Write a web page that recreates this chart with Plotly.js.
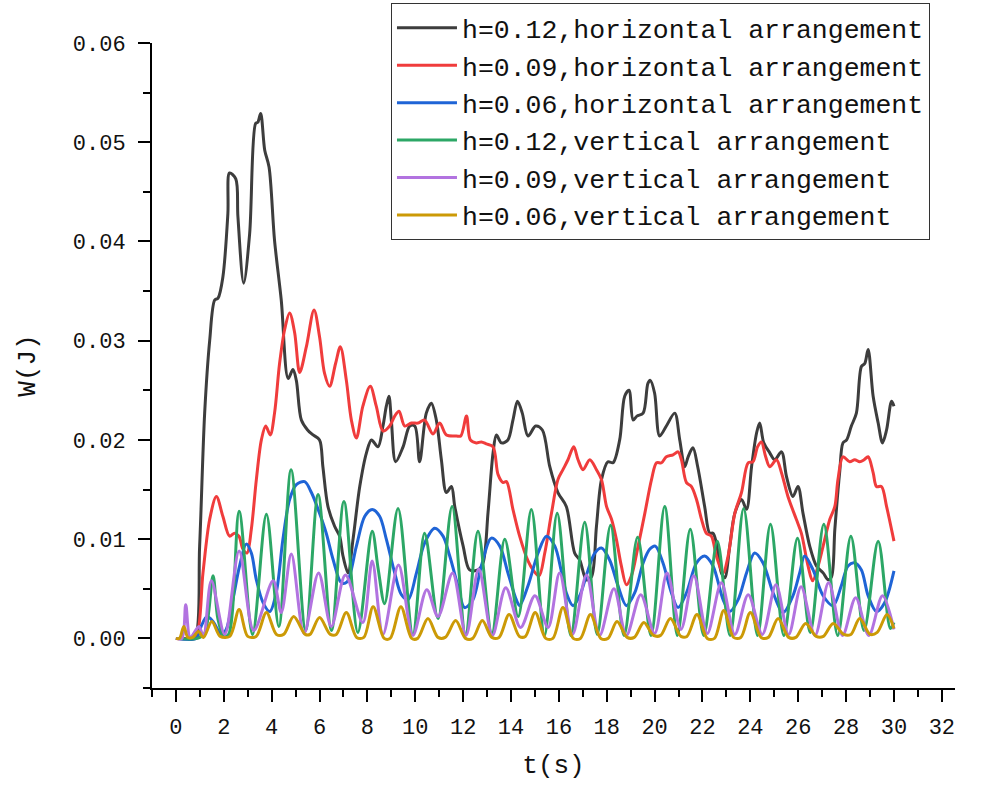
<!DOCTYPE html>
<html>
<head>
<meta charset="utf-8">
<script src="https://cdn.plot.ly/plotly-3.0.1.min.js"></script>
<style>html,body{margin:0;padding:0;background:#fff;}#chart{width:983px;height:786px;}</style>
</head>
<body>
<div id="chart"></div>
<script>
// Series names (legend)
const seriesNames = [
  "h=0.12,horizontal arrangement",
  "h=0.09,horizontal arrangement",
  "h=0.06,horizontal arrangement",
  "h=0.12,vertical arrangement",
  "h=0.09,vertical arrangement",
  "h=0.06,vertical arrangement"
];

// h=0.12 horizontal
const t_h12h = [0,0.5,0.79,0.99,1.2,1.41,1.62,1.76,1.96,2.17,
  2.24,2.5,2.59,2.83,3.08,3.33,3.42,3.54,3.71,3.89,
  4.12,4.4,4.69,4.89,5.03,5.24,5.5,5.73,6.0,6.14,
  6.35,6.63,6.84,6.98,7.19,7.4,7.68,7.96,8.17,8.44,
  8.65,8.79,8.9,9.0,9.18,9.49,9.77,9.98,10.18,10.46,
  10.67,10.88,11.09,11.3,11.51,11.65,12.0,12.27,12.62,12.83,
  13.04,13.25,13.39,13.6,13.87,14.08,14.27,14.47,14.71,15.03,
  15.31,15.62,15.96,16.31,16.66,16.87,17.15,17.36,17.57,17.78,
  18.05,18.26,18.54,18.75,18.93,19.1,19.26,19.52,19.72,19.82,
  20.0,20.21,20.49,20.84,21.05,21.26,21.4,21.6,21.8,22.09,
  22.3,22.44,22.58,22.79,22.93,23.14,23.35,23.63,23.84,24.05,
  24.26,24.39,24.56,24.81,25.02,25.3,25.51,25.78,25.99,26.2,
  26.48,26.76,27.04,27.25,27.39,27.53,27.73,27.87,28.02,28.22,
  28.43,28.64,28.78,28.92,29.13,29.34,29.52,29.69,29.9,30.0];
const w_h12h = [0,0,0,0.0093,0.0227,0.0300,0.0341,0.0343,0.0364,0.0428,
  0.0469,0.0463,0.0425,0.0358,0.0408,0.0519,0.0520,0.0529,0.0492,0.0475,
  0.0401,0.0341,0.0262,0.0271,0.0260,0.0220,0.0210,0.0205,0.0200,0.0173,
  0.0133,0.0113,0.0103,0.0083,0.0066,0.0100,0.0153,0.0187,0.0200,0.0193,
  0.0214,0.0234,0.0244,0.0220,0.0178,0.0193,0.0214,0.0214,0.0178,0.0227,
  0.0237,0.0220,0.0180,0.0147,0.0153,0.0133,0.0093,0.0069,0.0069,0.0076,
  0.0127,0.0187,0.0205,0.0197,0.0200,0.0220,0.0239,0.0227,0.0204,0.0214,
  0.0210,0.0173,0.0147,0.0133,0.0086,0.0079,0.0059,0.0062,0.0113,0.0160,
  0.0178,0.0177,0.0200,0.0244,0.0250,0.0220,0.0224,0.0227,0.0257,0.0260,
  0.0247,0.0204,0.0214,0.0227,0.0200,0.0173,0.0183,0.0192,0.0173,0.0133,
  0.0106,0.0106,0.0096,0.0066,0.0061,0.0093,0.0126,0.0140,0.0130,0.0173,
  0.0207,0.0217,0.0197,0.0187,0.0180,0.0188,0.0163,0.0143,0.0153,0.0126,
  0.0093,0.0073,0.0066,0.0059,0.0062,0.0110,0.0167,0.0197,0.0200,0.0214,
  0.0227,0.0274,0.0277,0.0291,0.0244,0.0217,0.0197,0.0210,0.0239,0.0234];

// h=0.09 horizontal
const t_h09h = [0,0.6,0.85,1.13,1.41,1.69,1.96,2.24,2.45,2.63,
  2.8,2.97,3.15,3.36,3.57,3.75,3.94,4.12,4.33,4.54,
  4.75,4.96,5.17,5.45,5.77,6.0,6.21,6.42,6.67,6.87,
  7.12,7.33,7.54,7.81,8.12,8.37,8.65,8.93,9.14,9.32,
  9.56,9.84,10.12,10.39,10.74,11.02,11.3,11.72,11.9,12.14,
  12.3,12.55,12.76,12.97,13.25,13.46,13.67,13.81,14.08,14.36,
  14.71,14.92,15.17,15.41,15.69,15.96,16.17,16.38,16.62,16.8,
  17.01,17.29,17.57,17.78,17.99,18.2,18.4,18.61,18.82,19.03,
  19.31,19.59,19.87,20.08,20.29,20.49,20.77,20.98,21.12,21.33,
  21.54,21.75,21.96,22.16,22.37,22.58,22.86,23.07,23.35,23.63,
  23.91,24.11,24.3,24.46,24.64,24.81,25.09,25.3,25.57,25.92,
  26.13,26.41,26.6,26.83,27.04,27.32,27.53,27.66,27.87,28.15,
  28.36,28.57,28.75,28.92,29.13,29.27,29.48,29.69,30.0];
const w_h09h = [0,0,0.0002,0.0066,0.0120,0.0143,0.0123,0.0103,0.0106,0.0103,
  0.0090,0.0086,0.0110,0.0160,0.0200,0.0214,0.0205,0.0227,0.0277,0.0311,
  0.0328,0.0308,0.0268,0.0294,0.0331,0.0304,0.0267,0.0254,0.0277,0.0294,
  0.0260,0.0220,0.0202,0.0234,0.0254,0.0234,0.0209,0.0214,0.0224,0.0229,
  0.0214,0.0217,0.0217,0.0220,0.0206,0.0217,0.0205,0.0204,0.0204,0.0224,
  0.0200,0.0197,0.0198,0.0196,0.0193,0.0165,0.0157,0.0158,0.0130,0.0103,
  0.0078,0.0069,0.0063,0.0086,0.0126,0.0160,0.0170,0.0180,0.0193,0.0180,
  0.0170,0.0180,0.0170,0.0160,0.0133,0.0120,0.0100,0.0073,0.0054,0.0063,
  0.0093,0.0126,0.0160,0.0177,0.0177,0.0183,0.0185,0.0188,0.0180,0.0157,
  0.0153,0.0140,0.0120,0.0106,0.0103,0.0083,0.0066,0.0083,0.0126,0.0147,
  0.0177,0.0178,0.0193,0.0198,0.0183,0.0173,0.0180,0.0167,0.0143,0.0120,
  0.0106,0.0073,0.0058,0.0073,0.0093,0.0120,0.0133,0.0160,0.0183,0.0178,
  0.0180,0.0178,0.0180,0.0183,0.0167,0.0153,0.0153,0.0133,0.0098];

// h=0.06 horizontal
const t_h06h = [0,0.85,1.05,1.3,1.55,1.9,2.1,2.38,2.66,2.94,3.15,
  3.36,3.64,3.92,4.19,4.47,4.75,5.03,5.38,5.66,6.0,
  6.28,6.56,6.91,7.15,7.54,7.89,8.2,8.51,8.79,9.14,
  9.42,9.7,10.05,10.39,10.81,11.16,11.44,11.78,12.06,12.41,
  12.76,13.18,13.53,13.87,14.22,14.36,14.71,15.13,15.48,15.83,
  16.1,16.31,16.59,16.87,17.22,17.5,17.78,18.12,18.47,18.82,
  19.17,19.52,19.8,20.03,20.35,20.7,20.98,21.33,21.75,22.09,
  22.44,22.86,23.14,23.49,23.84,24.18,24.53,24.95,25.37,25.78,
  26.06,26.27,26.62,27.04,27.46,27.8,28.08,28.36,28.64,28.92,
  29.27,29.61,30.0];
const w_h06h = [0,0,0.0012,0.0022,0.0017,0.0004,0.0009,0.0039,0.0073,0.0095,0.0086,
  0.0059,0.0036,0.0027,0.0046,0.0100,0.0140,0.0155,0.0158,0.0147,0.0126,
  0.0106,0.0080,0.0056,0.0057,0.0093,0.0123,0.0130,0.0123,0.0100,0.0066,
  0.0044,0.0039,0.0066,0.0096,0.0111,0.0103,0.0083,0.0053,0.0031,0.0039,
  0.0073,0.0101,0.0093,0.0066,0.0039,0.0033,0.0053,0.0086,0.0103,0.0093,
  0.0068,0.0046,0.0033,0.0043,0.0069,0.0086,0.0091,0.0079,0.0053,0.0033,
  0.0046,0.0076,0.0090,0.0093,0.0076,0.0046,0.0031,0.0046,0.0076,0.0083,
  0.0073,0.0039,0.0027,0.0039,0.0066,0.0086,0.0076,0.0046,0.0026,0.0043,
  0.0066,0.0083,0.0069,0.0043,0.0033,0.0053,0.0073,0.0076,0.0069,0.0043,
  0.0027,0.0036,0.0068];

// h=0.12 vertical
const t_h12v = [0,0.9,1.2,1.55,1.75,2.0,2.2,2.64,3.2,3.78,
  4.3,4.81,5.42,5.94,6.5,7.02,7.6,8.2,8.45,8.72,
  9.28,9.9,10.39,10.95,11.54,12.1,12.62,13.2,13.74,14.3,
  14.85,15.4,15.93,16.5,17.08,17.6,18.16,18.72,19.29,19.85,
  20.42,20.95,21.49,22.05,22.62,23.15,23.72,24.3,24.84,25.4,
  25.97,26.5,27.07,27.65,28.2,28.75,29.34,29.85,30.0];
const w_h12v = [0,0,0.0005,0.0063,0.0020,0.0002,0.0004,0.0128,0.0004,0.0125,
  0.0012,0.0170,0.0008,0.0145,0.0008,0.0138,0.0006,0.0108,0.0070,0.0035,
  0.0131,0.0004,0.0106,0.0020,0.0133,0.0004,0.0108,0.0005,0.0100,0.0022,
  0.0130,0.0003,0.0126,0.0003,0.0117,0.0004,0.0114,0.0003,0.0102,0.0003,
  0.0133,0.0003,0.0110,0.0003,0.0098,0.0003,0.0131,0.0003,0.0115,0.0003,
  0.0101,0.0006,0.0115,0.0003,0.0103,0.0008,0.0098,0.0010,0.0016];

// h=0.09 vertical
const t_h09v = [0,0.25,0.41,0.6,0.96,1.15,1.48,2.04,2.64,3.25,
  4.06,4.4,4.82,5.35,5.96,6.49,7.08,7.81,8.2,8.65,
  9.3,9.9,10.48,10.95,11.56,12.12,12.65,13.22,13.78,14.4,
  15.0,15.55,16.03,16.57,17.15,17.7,18.3,18.82,19.42,20.0,
  20.52,21.1,21.64,22.2,22.79,23.35,23.91,24.5,25.07,25.6,
  26.12,26.7,27.27,27.85,28.4,28.95,29.52,30.0];
const w_h09v = [0,0,0.0034,0.0001,0.0012,0.0002,0.0058,0.0004,0.0088,0.0008,
  0.0058,0.0026,0.0085,0.0005,0.0066,0.0012,0.0064,0.0016,0.0078,0.0004,
  0.0074,0.0003,0.0049,0.0022,0.0066,0.0003,0.0070,0.0003,0.0051,0.0011,
  0.0043,0.0011,0.0066,0.0004,0.0064,0.0003,0.0050,0.0003,0.0044,0.0005,
  0.0066,0.0009,0.0063,0.0005,0.0056,0.0004,0.0044,0.0004,0.0054,0.0004,
  0.0052,0.0003,0.0056,0.0003,0.0041,0.0003,0.0043,0.0009];

// h=0.06 vertical
const t_h06v = [0,0.15,0.33,0.5,0.7,0.94,1.15,1.5,1.85,2.25,
  2.64,3.0,3.35,3.78,4.2,4.5,4.92,5.4,5.6,6.0,
  6.45,6.7,7.12,7.55,7.85,8.24,8.7,8.95,9.4,9.85,
  10.1,10.53,10.95,11.25,11.69,12.1,12.4,12.8,13.2,13.5,
  13.92,14.35,14.6,15.01,15.45,15.75,16.17,16.6,16.9,17.32,
  17.75,18.05,18.43,18.85,19.15,19.55,19.95,20.25,20.66,21.1,
  21.35,21.77,22.2,22.5,22.89,23.3,23.6,24.0,24.45,24.75,
  25.16,25.6,25.9,26.31,26.75,27.05,27.46,27.9,28.2,28.57,
  29.0,29.3,29.71,30.0];
const w_h06v = [0,0,0.0012,0.0001,0.0001,0.0007,0.0001,0.0017,0.0002,0.0002,
  0.0029,0.0002,0.0002,0.0026,0.0004,0.0004,0.0022,0.0004,0.0004,0.0021,
  0.0004,0.0004,0.0026,0.0001,0.0001,0.0032,0,0,0.0032,0,
  0,0.0020,0.0001,0.0001,0.0018,0,0,0.0018,0.0001,0.0001,
  0.0024,0.0002,0.0002,0.0026,0,0,0.0031,0,0,0.0024,
  0,0,0.0017,0.0001,0.0001,0.0016,0.0003,0.0003,0.0020,0.0002,
  0.0002,0.0024,0,0,0.0028,0.0001,0.0001,0.0026,0.0001,0.0001,
  0.0020,0.0001,0.0001,0.0015,0.0002,0.0002,0.0015,0.0004,0.0004,0.0020,
  0.0004,0.0006,0.0024,0.0010];

const xTickVals = [0,2,4,6,8,10,12,14,16,18,20,22,24,26,28,30,32];
const xMinorVals = [-1,1,3,5,7,9,11,13,15,17,19,21,23,25,27,29,31];
const yTickVals = [0.00,0.01,0.02,0.03,0.04,0.05,0.06];
const yMinorVals = [-0.005,0.005,0.015,0.025,0.035,0.045,0.055];

const colors = ['#3d3d3d','#f03c3c','#1f64d6','#2ca766','#b273e0','#cc9a06'];
const xs = [t_h12h,t_h09h,t_h06h,t_h12v,t_h09v,t_h06v];
const ys = [w_h12h,w_h09h,w_h06h,w_h12v,w_h09v,w_h06v];

const FONT = 'Liberation Mono, DejaVu Sans Mono, monospace';

const traces = seriesNames.map((n,i)=>({
  type:'scatter', mode:'lines', name:n, x:xs[i], y:ys[i],
  line:{color:colors[i], width:3, shape:'spline', smoothing:0.9},
  hoverinfo:'skip'
}));

const layout = {
  width:983, height:786,
  margin:{l:152, r:28, t:43, b:98, pad:0, autoexpand:false},
  paper_bgcolor:'#ffffff', plot_bgcolor:'#ffffff',
  font:{family:FONT, color:'#000'},
  showlegend:true,
  legend:{
    x:0.2976, y:1.062, xanchor:'left', yanchor:'top',
    bgcolor:'#ffffff', bordercolor:'#333333', borderwidth:1,
    font:{family:FONT, size:26.5, color:'#111'},
    itemwidth:60, tracegroupgap:0
  },
  xaxis:{
    range:[-1, 32.55], tickmode:'array', tickvals:xTickVals,
    ticks:'outside', ticklen:12, tickwidth:2, tickcolor:'#000',
    showline:true, linewidth:2, linecolor:'#000', mirror:false,
    showgrid:false, zeroline:false,
    minor:{tickmode:'array', tickvals:xMinorVals, ticks:'outside', ticklen:7, tickwidth:2, tickcolor:'#000', showgrid:false},
    tickfont:{family:FONT, size:22, color:'#111'},
    ticklabelstandoff:6,
    title:{text:'t(s)', font:{family:FONT, size:26, color:'#111'}, standoff:14}
  },
  yaxis:{
    range:[-0.005, 0.06], tickmode:'array', tickvals:yTickVals, tickformat:'.2f',
    ticks:'outside', ticklen:12, tickwidth:2, tickcolor:'#000',
    showline:true, linewidth:2, linecolor:'#000',
    showgrid:false, zeroline:false,
    minor:{tickmode:'array', tickvals:yMinorVals, ticks:'outside', ticklen:7, tickwidth:2, tickcolor:'#000', showgrid:false},
    tickfont:{family:FONT, size:22, color:'#111'},
    ticklabelstandoff:8,
    title:{text:'W(J)', font:{family:FONT, size:26, color:'#111'}, standoff:30}
  }
};

Plotly.newPlot('chart', traces, layout, {displayModeBar:false, staticPlot:true});
</script>
</body>
</html>
